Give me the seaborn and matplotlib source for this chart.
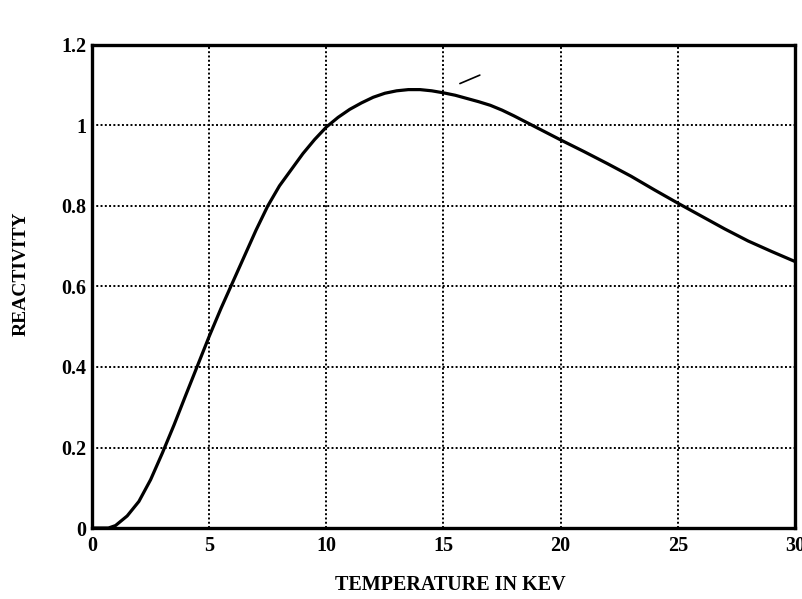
import matplotlib
matplotlib.use("Agg")
import matplotlib.pyplot as plt
import seaborn as sns
import pandas as pd

temperature_kev = [0, 0.7, 1.0, 1.5, 2.0, 2.5, 3.0, 3.5, 4.0, 4.5, 5.0, 5.5, 6.0, 6.5,
                   7.0, 7.5, 8.0, 8.5, 9.0, 9.5, 10.0, 10.5, 11.0, 11.5, 12.0, 12.5,
                   13.0, 13.5, 14.0, 14.5, 15.0, 15.5, 16.0, 16.5, 17.0, 17.5, 18.0,
                   18.5, 19.0, 19.5, 20, 21, 22, 23, 24, 25, 26, 27, 28, 29, 30]
reactivity = [0, 0, 0.006, 0.03, 0.066, 0.12, 0.186, 0.256, 0.33, 0.403, 0.476, 0.545,
              0.61, 0.675, 0.74, 0.80, 0.85, 0.89, 0.93, 0.965, 0.996, 1.02, 1.04,
              1.056, 1.07, 1.08, 1.086, 1.089, 1.089, 1.086, 1.081, 1.075, 1.067,
              1.059, 1.05, 1.038, 1.024, 1.009, 0.994, 0.979, 0.964, 0.935, 0.905,
              0.874, 0.84, 0.807, 0.775, 0.743, 0.713, 0.687, 0.662]
stray_x = [15.7, 16.55]
stray_y = [1.104, 1.125]

x_ticks = [0, 5, 10, 15, 20, 25, 30]
y_ticks = [0, 0.2, 0.4, 0.6, 0.8, 1.0, 1.2]
y_tick_labels = ["0", "0.2", "0.4", "0.6", "0.8", "1", "1.2"]

sns.set_style("white")
plt.rcParams["font.family"] = ["Liberation Serif", "DejaVu Serif"]
plt.rcParams["text.color"] = "black"
plt.rcParams["axes.labelcolor"] = "black"
plt.rcParams["xtick.color"] = "black"
plt.rcParams["ytick.color"] = "black"

df = pd.DataFrame({"T": temperature_kev, "R": reactivity})

fig = plt.figure(figsize=(8.03, 5.99), dpi=100)
ax = fig.add_axes([0.1146, 0.1185, 0.8754, 0.8065])
sns.lineplot(data=df, x="T", y="R", ax=ax, color="black", linewidth=2.3)
ax.plot(stray_x, stray_y, color="black", linewidth=1.2)

ax.set_xlim(0, 30)
ax.set_ylim(0, 1.2)
ax.set_xticks(x_ticks)
ax.set_xticklabels([str(t) for t in x_ticks])
ax.set_yticks(y_ticks)
ax.set_yticklabels(y_tick_labels)
ax.grid(True, color="black", linestyle=(0, (1, 1.2)), linewidth=1.4)
for s in ax.spines.values():
    s.set_color("black")
    s.set_linewidth(2.4)
ax.tick_params(axis="x", length=0, pad=6, labelsize=14.5, colors="black")
ax.tick_params(axis="y", length=0, pad=4, labelsize=14.5, colors="black")
for lab in ax.get_xticklabels() + ax.get_yticklabels():
    lab.set_fontweight("bold")

ax.set_xlabel("TEMPERATURE IN KEV", fontsize=14.5, fontweight="bold", color="black")
ax.set_ylabel("REACTIVITY", fontsize=14, fontweight="bold", color="black")
ax.xaxis.label.set_va("center")
ax.yaxis.label.set_va("center")
ax.xaxis.set_label_coords(0.509, -0.118)
ax.yaxis.set_label_coords(-0.101, 0.526)

fig.savefig("out.png", dpi=100)
